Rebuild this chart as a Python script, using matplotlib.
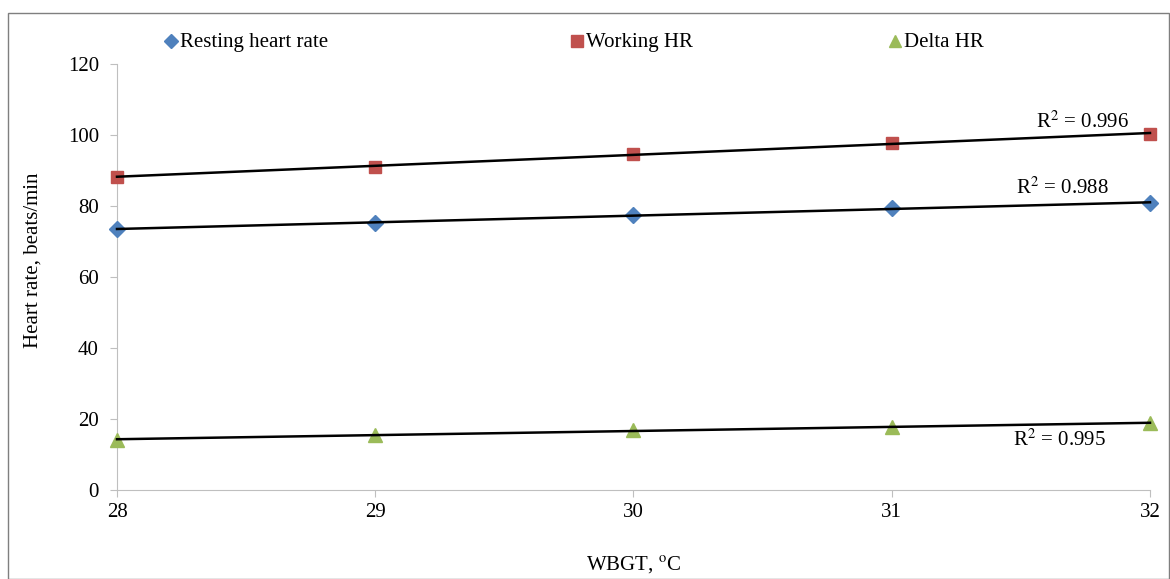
import numpy as np
import matplotlib.pyplot as plt
from matplotlib.lines import Line2D
from matplotlib.patches import Rectangle

plt.rcParams['font.family'] = ['Liberation Serif', 'DejaVu Serif']
plt.rcParams['mathtext.fontset'] = 'stix'

wbgt = [28, 29, 30, 31, 32]
resting_hr = [73.5, 75.2, 77.5, 79.4, 80.8]
working_hr = [88.2, 91.1, 94.7, 97.7, 100.3]
delta_hr = [14.2, 15.5, 16.8, 17.7, 18.9]
r2_labels = ['0.988', '0.996', '0.995']
r2_pos = [(31.66, 85.1), (31.74, 103.7), (31.65, 14.1)]

series = [
    ("Resting heart rate", resting_hr, "D", "#4F81BD", 8),
    ("Working HR", working_hr, "s", "#C0504D", 9),
    ("Delta HR", delta_hr, "^", "#9BBB59", 10),
]

fig = plt.figure(figsize=(11.7, 5.79), dpi=100)
ax = fig.add_axes([0.1, 0.1537, 0.8829, 0.7358])

x = np.array(wbgt, dtype=float)
for name, vals, mk, col, ms in series:
    ax.plot(x, vals, linestyle="none", marker=mk, color=col, markersize=ms,
            zorder=3, clip_on=False)
    # linear trendline
    k, b = np.polyfit(x, vals, 1)
    ax.plot(x, k * x + b, color="black", lw=1.8, zorder=4, clip_on=False)

for lab, (tx, ty) in zip(r2_labels, r2_pos):
    ax.text(tx, ty, r"R$^{2}$ = " + lab, fontsize=15, ha="center", va="center",
            zorder=5)

ax.set_xlim(28, 32)
ax.set_ylim(0, 120)
ax.set_xticks(wbgt)
ax.set_yticks(range(0, 121, 20))
ax.tick_params(labelsize=15, length=5, color="#BFBFBF", width=0.8)
ax.tick_params(axis="x", pad=4)
ax.tick_params(axis="y", pad=8)
for s in ["top", "right"]:
    ax.spines[s].set_visible(False)
for s in ["left", "bottom"]:
    ax.spines[s].set_color("#BFBFBF")
    ax.spines[s].set_linewidth(0.8)

ax.set_xlabel(r"WBGT, $^{\mathrm{o}}$C", fontsize=15, labelpad=24)
ax.set_ylabel("Heart rate, beats/min", fontsize=15)
ax.yaxis.set_label_coords(-0.072, 0.54)

# legend across the top
leg_x = [0.146, 0.493, 0.765]
for (name, vals, mk, col, ms), lx in zip(series, leg_x):
    fig.add_artist(Line2D([lx], [0.929], marker=mk, color=col, markersize=ms - 1,
                          linestyle="none", transform=fig.transFigure))
    fig.text(lx + 0.008, 0.927, name, fontsize=15, va="center", ha="left")

fig.add_artist(Rectangle((0.007, 0.0), 0.992, 0.977, transform=fig.transFigure,
                         fill=False, edgecolor="#7F7F7F", lw=1.0))

fig.savefig("out.png", dpi=100)
